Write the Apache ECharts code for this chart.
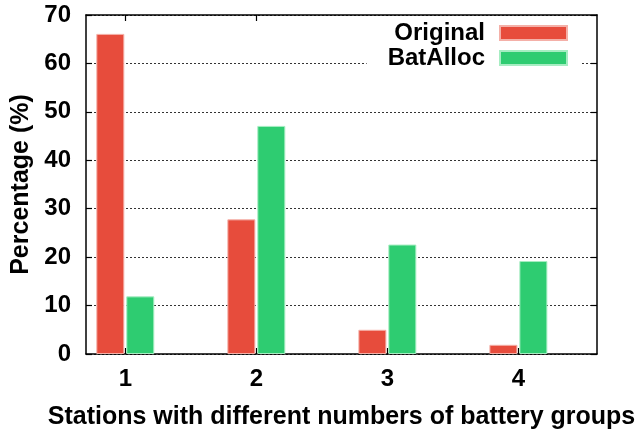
<!DOCTYPE html>
<html>
<head>
<meta charset="utf-8">
<script src="https://cdn.jsdelivr.net/npm/echarts@6/dist/echarts.min.js"></script>
<style>
html,body{margin:0;padding:0;background:#fff;}
#c{width:636px;height:434px;}
</style>
</head>
<body>
<div id="c"></div>
<script>
var categories = [1, 2, 3, 4];
var originalValues = [66.1, 27.8, 5.0, 1.9];
var batAllocValues = [11.9, 47.1, 22.6, 19.2];
var yTicks = [0, 10, 20, 30, 40, 50, 60, 70];
var seriesNames = ['Original', 'BatAlloc'];
var xTitle = 'Stations with different numbers of battery groups';
var yTitle = 'Percentage (%)';

var FONT = '"Liberation Sans", Arial, Helvetica, sans-serif';
var chart = echarts.init(document.getElementById('c'), null, {renderer: 'canvas'});

function pairs(vals) {
  return categories.map(function (c, i) { return [c, vals[i]]; });
}

var tickStyle = {show: true, inside: true, length: 6, lineStyle: {color: '#000', width: 1.2}, customValues: categories};
var axisLine = {show: true, onZero: false, lineStyle: {color: '#000', width: 1.5}};

var option = {
  animation: false,
  backgroundColor: '#fff',
  grid: {left: 86, right: 39, top: 15, bottom: 80, containLabel: false, outerBoundsMode: 'none'},
  legend: {
    data: seriesNames,
    orient: 'vertical',
    right: 54,
    top: 16,
    align: 'right',
    itemWidth: 67,
    itemHeight: 14,
    itemGap: 1,
    padding: [5, 14, 3, 21],
    backgroundColor: '#fff',
    icon: 'rect',
    textStyle: {fontFamily: FONT, fontWeight: 'bold', fontSize: 24, lineHeight: 24, color: '#000', padding: [0, 10, 0, 0]}
  },
  xAxis: [
    {
      type: 'value', position: 'bottom', min: 0.7, max: 4.6,
      axisLine: axisLine,
      axisTick: tickStyle,
      axisLabel: {customValues: categories, fontFamily: FONT, fontWeight: 'bold', fontSize: 24, color: '#000', margin: 13},
      splitLine: {show: false},
      name: xTitle, nameLocation: 'middle', nameGap: 51,
      nameTextStyle: {fontFamily: FONT, fontWeight: 'bold', fontSize: 25, color: '#000'}
    },
    {
      type: 'value', position: 'top', min: 0.7, max: 4.6,
      axisLine: axisLine,
      axisTick: tickStyle,
      axisLabel: {show: false},
      splitLine: {show: false}
    }
  ],
  yAxis: [
    {
      type: 'value', position: 'left', min: 0, max: 70, interval: 10,
      axisLine: axisLine,
      axisTick: {show: true, inside: true, length: 6, lineStyle: {color: '#000', width: 1.2}},
      axisLabel: {fontFamily: FONT, fontWeight: 'bold', fontSize: 24, color: '#000', margin: 15,
        formatter: function (v) { return yTicks.indexOf(v) >= 0 ? String(v) : ''; }},
      splitLine: {show: true, lineStyle: {type: [2, 2], color: '#333', width: 1}},
      name: yTitle, nameLocation: 'middle', nameGap: 52, nameRotate: 90,
      nameTextStyle: {fontFamily: FONT, fontWeight: 'bold', fontSize: 25, color: '#000'}
    },
    {
      type: 'value', position: 'right', min: 0, max: 70, interval: 10,
      axisLine: axisLine,
      axisTick: {show: true, inside: true, length: 6, lineStyle: {color: '#000', width: 1.2}},
      axisLabel: {show: false},
      splitLine: {show: false}
    }
  ],
  series: [
    {
      name: seriesNames[0], type: 'bar', xAxisIndex: 0, yAxisIndex: 0,
      data: pairs(originalValues), barWidth: 28, barGap: '7%',
      itemStyle: {color: '#E74C3C', borderColor: '#F4B0A8', borderWidth: 1}
    },
    {
      name: seriesNames[1], type: 'bar', xAxisIndex: 0, yAxisIndex: 0,
      data: pairs(batAllocValues), barWidth: 28, barGap: '7%',
      itemStyle: {color: '#2ECC71', borderColor: '#A6EDC2', borderWidth: 1}
    }
  ]
};
chart.setOption(option);
</script>
</body>
</html>
